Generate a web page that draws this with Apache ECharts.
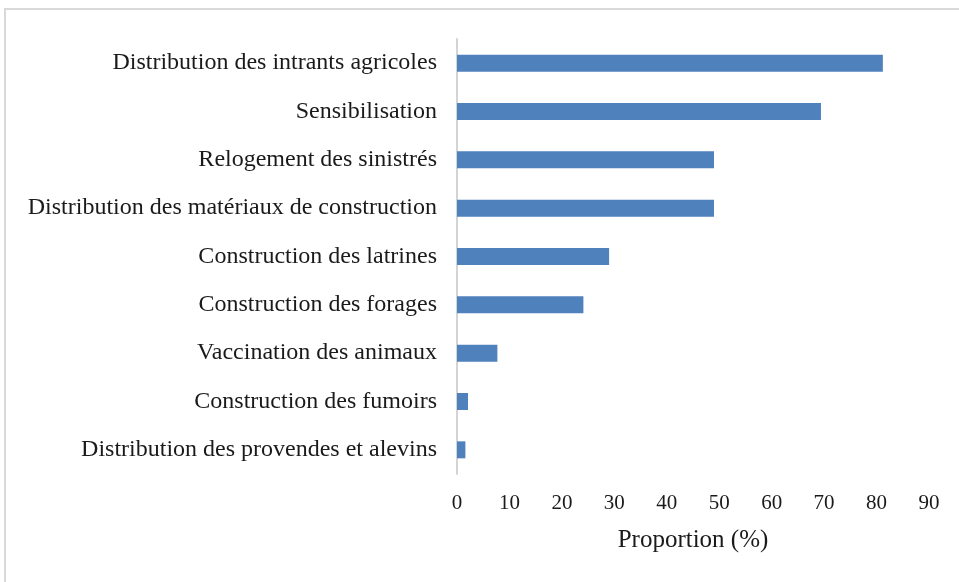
<!DOCTYPE html>
<html>
<head>
<meta charset="utf-8">
<script src="https://cdn.jsdelivr.net/npm/echarts@6/dist/echarts.min.js"></script>
<style>
  html, body { margin: 0; padding: 0; background: #fff; }
  #chart { width: 959px; height: 582px; }
</style>
</head>
<body>
<div id="chart"></div>
<script>
// categories from top to bottom as in the figure
const categories = [
  'Distribution des intrants agricoles',
  'Sensibilisation',
  'Relogement des sinistrés',
  'Distribution des matériaux de construction',
  'Construction des latrines',
  'Construction des forages',
  'Vaccination des animaux',
  'Construction des fumoirs',
  'Distribution des provendes et alevins'
];
const proportions = [81.2, 69.4, 49, 49, 29, 24.1, 7.7, 2.1, 1.6];
const axisTitle = 'Proportion (%)';

const chart = echarts.init(document.getElementById('chart'));
const serif = '"Liberation Serif", "DejaVu Serif", serif';

let option = {
  animation: false,
  graphic: [{
    type: 'rect',
    shape: { x: 5, y: 9, width: 1000, height: 1000 },
    style: { fill: 'none', stroke: '#d9d9d9', lineWidth: 2 }
  }],
  grid: {
    left: 457,
    right: 30,
    top: 39,
    bottom: 108
  },
  xAxis: {
    type: 'value',
    min: 0,
    max: 90,
    interval: 10,
    splitLine: { show: false },
    axisLine: { show: false },
    axisTick: { show: false },
    axisLabel: {
      margin: 19,
      color: '#1a1a1a',
      fontFamily: serif,
      fontSize: 21
    },
    name: axisTitle,
    nameLocation: 'middle',
    nameGap: 54,
    nameTextStyle: {
      color: '#1a1a1a',
      fontFamily: serif,
      fontSize: 25
    }
  },
  yAxis: {
    type: 'category',
    inverse: true,
    data: categories,
    axisTick: { show: false },
    axisLine: {
      lineStyle: { color: '#d4d4d4', width: 2 }
    },
    axisLabel: {
      margin: 20,
      color: '#1a1a1a',
      fontFamily: serif,
      fontSize: 24
    }
  },
  series: [{
    type: 'bar',
    data: proportions,
    barWidth: 17,
    itemStyle: {
      color: '#4f81bd'
    }
  }]
};
chart.setOption(option);
</script>
</body>
</html>
